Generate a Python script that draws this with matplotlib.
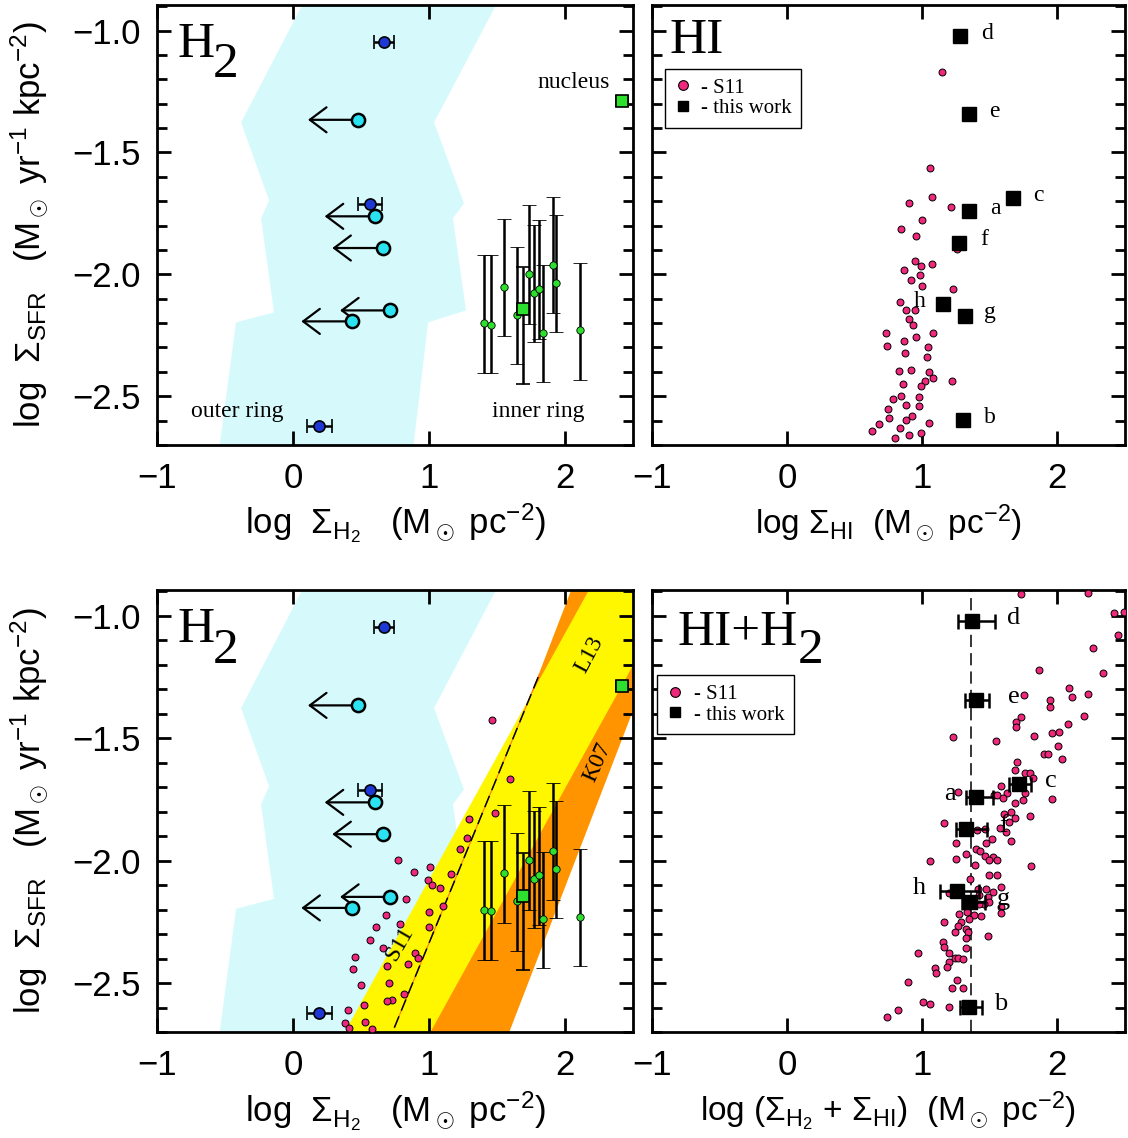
import numpy as np
import matplotlib
matplotlib.use('Agg')
import matplotlib.pyplot as plt
from matplotlib.lines import Line2D
from matplotlib.ticker import MultipleLocator

plt.rcParams['font.family'] = ['Liberation Sans', 'DejaVu Sans']
plt.rcParams['mathtext.fontset'] = 'custom'
plt.rcParams['mathtext.rm'] = 'Liberation Sans'
plt.rcParams['mathtext.it'] = 'Liberation Sans:italic'
plt.rcParams['mathtext.bf'] = 'Liberation Sans:bold'
serif = ['Liberation Serif', 'DejaVu Serif']

# ---- H2 panel: this work ----
# outer ring detections (dark blue) with x errors
blue_x = [0.667, 0.566, 0.194]
blue_y = [-1.045, -1.71, -2.623]
blue_xerr = [0.073, 0.086, 0.094]
# outer ring upper limits (cyan)
cyan_x = [0.48, 0.603, 0.659, 0.716, 0.431]
cyan_y = [-1.366, -1.762, -1.892, -2.148, -2.193]
# inner ring points
inner_x = [1.407, 1.456, 1.549, 1.645, 1.738, 1.775, 1.806, 1.841, 1.909, 1.934, 2.11]
inner_y = [-2.20, -2.206, -2.052, -2.165, -1.997, -2.075, -2.059, -2.24, -1.96, -2.035, -2.23]
inner_up = [0.28, 0.287, 0.28, 0.277, 0.28, 0.276, 0.28, 0.277, 0.277, 0.28, 0.277]
inner_dn = [0.205, 0.198, 0.202, 0.204, 0.205, 0.202, 0.205, 0.2, 0.2, 0.2, 0.202]
# inner ring mean and nucleus
ring_x, ring_y, ring_up, ring_dn = 1.693, -2.143, 0.173, 0.305
nuc_x, nuc_y, nuc_xerr = 2.417, -1.287, 0.045

# region of other galaxies (cyan band), left and right edges
band_lx = [0.081, -0.382, -0.176, -0.235, -0.140, -0.419, -0.544]
band_ly = [-0.88, -1.377, -1.697, -1.770, -2.156, -2.197, -2.72]
band_rx = [1.507, 1.037, 1.257, 1.176, 1.272, 0.993, 0.882]
band_ry = [-0.88, -1.377, -1.709, -1.770, -2.148, -2.197, -2.72]

# L13 and K07 relations (edges at bottom and top of the plot)
rel_y = [-2.70, -0.885]
l13_left = [0.375, 2.18]
l13_right = [1.005, 2.81]
k07_left = [0.789, 2.047]
k07_right = [1.585, 2.843]
s11_line_x = [0.745, 1.811]
s11_line_y = [-2.682, -1.239]

# S11 points in H2 space
s11_h2_x = [1.593, 1.483, 1.463, 1.294, 1.277, 1.226, 0.770, 1.005, 0.892, 1.162,
            0.995, 1.022, 1.079, 0.829, 1.101, 1.002, 0.686, 0.787, 0.610, 0.998,
            0.564, 0.660, 0.897, 0.919, 0.456, 0.843, 0.689, 0.439, 0.498, 0.708,
            0.814, 0.730, 0.689, 0.522, 0.402, 0.532, 0.385, 0.581, 0.414]
s11_h2_y = [-1.668, -1.807, -1.427, -1.831, -1.907, -1.952, -1.996, -2.026, -2.046, -2.053,
            -2.079, -2.098, -2.111, -2.155, -2.186, -2.208, -2.221, -2.258, -2.272, -2.273,
            -2.325, -2.355, -2.376, -2.398, -2.395, -2.421, -2.430, -2.443, -2.508, -2.499,
            -2.545, -2.568, -2.575, -2.591, -2.608, -2.657, -2.665, -2.689, -2.682]

# ---- HI panel ----
reg_lab = ['d', 'e', 'c', 'a', 'f', 'h', 'g', 'b']
reg_sfr = [-1.022, -1.342, -1.686, -1.740, -1.870, -2.123, -2.169, -2.597]
reg_hi = [1.282, 1.348, 1.674, 1.343, 1.27, 1.152, 1.318, 1.304]
reg_tot = [1.368, 1.397, 1.716, 1.40, 1.326, 1.255, 1.355, 1.343]
reg_tot_lo = [0.105, 0.078, 0.074, 0.074, 0.078, 0.12, 0.061, 0.064]
reg_tot_hi = [0.172, 0.098, 0.086, 0.127, 0.155, 0.167, 0.11, 0.098]
tot_mean = 1.363

s11_hi_x = [1.147, 1.061, 1.069, 0.900, 1.213, 0.995, 0.843, 0.953, 1.257, 0.946,
            0.990, 1.074, 0.868, 0.985, 0.917, 0.995, 1.228, 0.836, 0.882, 0.946,
            0.902, 0.929, 0.730, 1.078, 0.865, 0.953, 0.738, 1.039, 0.870, 1.037,
            0.826, 0.917, 1.047, 1.078, 1.020, 1.223, 0.858, 0.993, 0.841, 0.784,
            0.975, 0.745, 0.882, 0.975, 0.752, 0.924, 0.877, 1.049, 0.681, 0.630,
            0.833, 0.904, 0.988, 0.799]
s11_hi_y = [-1.169, -1.563, -1.684, -1.706, -1.724, -1.776, -1.816, -1.842, -1.895, -1.944,
            -1.964, -1.958, -1.981, -2.004, -2.022, -2.049, -2.061, -2.113, -2.145, -2.148,
            -2.183, -2.208, -2.240, -2.240, -2.275, -2.257, -2.292, -2.299, -2.322, -2.339,
            -2.395, -2.392, -2.399, -2.426, -2.436, -2.437, -2.448, -2.458, -2.499, -2.512,
            -2.505, -2.551, -2.536, -2.540, -2.590, -2.582, -2.597, -2.609, -2.612, -2.643,
            -2.632, -2.660, -2.652, -2.672]

# ---- HI+H2 panel ----
s11_tot_x = [1.728, 2.230, 2.422, 2.49, 2.451, 2.260, 1.863, 2.336, 2.083, 1.752,
             1.944, 2.108, 2.228, 1.949, 1.728, 1.691, 1.691, 2.199, 2.078, 1.228,
             1.547, 1.824, 1.963, 2.010, 2.005, 1.904, 1.931, 2.034, 1.699, 1.686,
             1.757, 1.801, 1.821, 1.581, 1.630, 1.757, 1.532, 1.556, 1.600, 1.745,
             1.961, 1.265, 1.684, 1.605, 1.654, 1.684, 1.797, 1.642, 1.574, 1.618,
             1.159, 1.402, 1.463, 1.517, 1.471, 1.250, 1.654, 1.397, 1.429, 1.324,
             1.250, 1.463, 1.520, 1.495, 1.556, 1.054, 1.390, 1.806, 1.495, 1.556,
             1.355, 1.581, 1.409, 1.471, 1.520, 1.196, 1.422, 1.483, 1.495, 1.458,
             1.422, 1.581, 1.581, 1.275, 1.331, 1.434, 1.385, 1.287, 1.348, 1.164,
             1.262, 1.324, 1.245, 1.341, 1.483, 1.324, 1.157, 1.164, 1.324, 0.968,
             1.201, 1.245, 1.267, 1.304, 1.196, 1.091, 1.103, 1.184, 1.257, 0.895,
             1.218, 1.299, 1.005, 1.061, 1.196, 0.821, 0.740]
s11_tot_y = [-0.910, -0.906, -0.990, -0.985, -1.077, -1.131, -1.223, -1.234, -1.295, -1.322,
             -1.346, -1.333, -1.321, -1.372, -1.415, -1.434, -1.455, -1.408, -1.443, -1.495,
             -1.512, -1.493, -1.480, -1.473, -1.530, -1.563, -1.566, -1.586, -1.597, -1.630,
             -1.641, -1.643, -1.664, -1.694, -1.723, -1.723, -1.730, -1.732, -1.746, -1.754,
             -1.750, -1.719, -1.766, -1.811, -1.803, -1.825, -1.817, -1.842, -1.866, -1.883,
             -1.846, -1.876, -1.872, -1.913, -1.926, -1.926, -1.919, -1.951, -1.961, -1.971,
             -1.995, -1.982, -1.985, -1.999, -1.999, -2.003, -2.019, -2.023, -2.057, -2.060,
             -2.074, -2.108, -2.115, -2.115, -2.128, -2.131, -2.142, -2.149, -2.169, -2.176,
             -2.176, -2.190, -2.213, -2.217, -2.210, -2.227, -2.224, -2.249, -2.238, -2.249,
             -2.265, -2.279, -2.292, -2.290, -2.306, -2.316, -2.333, -2.354, -2.357, -2.377,
             -2.378, -2.399, -2.397, -2.401, -2.415, -2.439, -2.459, -2.436, -2.488, -2.497,
             -2.522, -2.521, -2.577, -2.585, -2.596, -2.609, -2.637]

pink = '#f0287c'
cyanband = '#d6fafc'
green = '#2ee02e'
# label offsets (points) next to the squares
hi_dx = {'d': 19, 'e': 18, 'c': 18, 'a': 19, 'f': 18, 'h': -17, 'g': 18, 'b': 19}
tot_dx = {'d': 30, 'e': 27, 'c': 23, 'a': -19, 'f': 27, 'h': -27, 'g': 24, 'b': 23}

fig = plt.figure(figsize=(11.28, 11.38), dpi=100)
ax_tl = fig.add_axes([0.1392, 0.6090, 0.4220, 0.3866])
ax_tr = fig.add_axes([0.5780, 0.6090, 0.4193, 0.3866])
ax_bl = fig.add_axes([0.1392, 0.0931, 0.4220, 0.3884])
ax_br = fig.add_axes([0.5780, 0.0931, 0.4193, 0.3884])


def setup(ax, ylab):
    ax.set_xlim(-1, 2.5)
    ax.set_ylim(-2.70, -0.895)
    ax.set_xticks([-1, 0, 1, 2])
    ax.set_yticks([-1.0, -1.5, -2.0, -2.5])
    ax.yaxis.set_minor_locator(MultipleLocator(0.1))
    ax.tick_params(which='both', direction='in', top=True, right=True, width=2)
    ax.tick_params(which='major', length=10, labelsize=25)
    ax.tick_params(axis='x', pad=12)
    ax.tick_params(axis='y', pad=12)
    ax.tick_params(which='minor', length=7)
    for s in ax.spines.values():
        s.set_linewidth(2)
    if ylab:
        ax.set_ylabel(r'log  $\Sigma_{\rm SFR}$   (M$_\odot$ yr$^{-1}$ kpc$^{-2}$)', fontsize=25)
        ax.yaxis.set_label_coords(-0.225, 0.5)
    else:
        ax.set_yticklabels([])


def panel_name(ax, main, sub, x0, y0, x1, y1):
    ax.text(x0, y0, main, transform=ax.transAxes, fontsize=37, family=serif, va='baseline', zorder=10)
    if sub:
        ax.text(x1, y1, sub, transform=ax.transAxes, fontsize=37, family=serif, va='baseline', zorder=10)


def h2_points(ax):
    ax.fill(band_lx + band_rx[::-1], band_ly + band_ry[::-1], color=cyanband, lw=0, zorder=0)
    for x, y in zip(cyan_x, cyan_y):
        ax.annotate('', xy=(x - 0.37, y), xytext=(x, y),
                    arrowprops=dict(arrowstyle='->,head_length=0.6,head_width=0.45', lw=1.6,
                                    color='black', shrinkA=0, shrinkB=0, mutation_scale=20), zorder=5)
    ax.errorbar(blue_x, blue_y, xerr=blue_xerr, fmt='o', ms=8, mfc='#1d38d4', mec='black', mew=1.2,
                ecolor='black', elinewidth=1.8, capsize=4.7, capthick=1.8, zorder=6)
    ax.plot(cyan_x, cyan_y, 'o', ms=9.5, mfc='#2ae2f0', mec='black', mew=1.8, zorder=6)
    ax.errorbar(inner_x, inner_y, yerr=[inner_dn, inner_up], fmt='o', ms=5.3, mfc=green, mec='black',
                mew=0.6, ecolor='black', elinewidth=1.8, capsize=5.3, capthick=1.8, zorder=6)
    ax.errorbar([ring_x], [ring_y], yerr=[[ring_dn], [ring_up]], fmt='s', ms=9, mfc=green, mec='black',
                mew=1.2, ecolor='black', elinewidth=1.8, capsize=5.3, capthick=1.8, zorder=7)
    ax.errorbar([nuc_x], [nuc_y], xerr=[nuc_xerr], fmt='s', ms=9, mfc=green, mec='black',
                mew=1.2, ecolor='black', elinewidth=1.8, capsize=4.5, capthick=1.8, zorder=7)


def add_legend(ax, anchor):
    handles = [
        Line2D([], [], ls='none', marker='o', ms=7, mfc=pink, mec='black', mew=0.8),
        Line2D([], [], ls='none', marker='s', ms=7.5, mfc='black', mec='black'),
    ]
    leg = ax.legend(handles, ['- S11', '- this work'], loc='upper left',
                    bbox_to_anchor=anchor, borderaxespad=0, frameon=True, fancybox=False,
                    edgecolor='black', framealpha=1, prop={'family': serif, 'size': 15},
                    handlelength=0.8, handletextpad=0.5, labelspacing=0.05, borderpad=0.45)
    leg.get_frame().set_linewidth(1)


# top left: H2
setup(ax_tl, True)
h2_points(ax_tl)
ax_tl.text(2.066, -1.234, 'nucleus', family=serif, fontsize=17, ha='center', va='baseline')
ax_tl.text(-0.41, -2.586, 'outer ring', family=serif, fontsize=17, ha='center', va='baseline')
ax_tl.text(1.805, -2.586, 'inner ring', family=serif, fontsize=17, ha='center', va='baseline')
panel_name(ax_tl, 'H', '2', 0.044, 0.882, 0.118, 0.836)
ax_tl.set_xlabel(r'log  $\Sigma_{\rm H_2}$   (M$_\odot$ pc$^{-2}$)', fontsize=25)
ax_tl.xaxis.set_label_coords(0.5, -0.13)

# bottom left: H2 with relations
setup(ax_bl, True)
h2_points(ax_bl)
ax_bl.fill_betweenx(rel_y, k07_left, k07_right, color='#ff9400', lw=0, zorder=1)
ax_bl.fill_betweenx(rel_y, l13_left, l13_right, color='#fff700', lw=0, zorder=1.5)
ax_bl.plot(s11_line_x, s11_line_y, color='#ff7a00', lw=0.8, zorder=2)
ax_bl.plot(s11_line_x, s11_line_y, color='black', lw=1.1, ls=(0, (8, 4)), zorder=2.1)
ax_bl.plot(s11_h2_x, s11_h2_y, 'o', ms=5, mfc=pink, mec='black', mew=0.7, zorder=3)
ax_bl.text(0.782, -2.34, 'S11', family=serif, fontsize=17, rotation=60, ha='center', va='center', zorder=4)
ax_bl.text(2.179, -1.157, 'L13', family=serif, fontsize=17, rotation=62, ha='center', va='center', zorder=4)
ax_bl.text(2.24, -1.60, 'K07', family=serif, fontsize=17, rotation=66, ha='center', va='center', zorder=4)
panel_name(ax_bl, 'H', '2', 0.044, 0.882, 0.118, 0.836)
ax_bl.set_xlabel(r'log  $\Sigma_{\rm H_2}$   (M$_\odot$ pc$^{-2}$)', fontsize=25)
ax_bl.xaxis.set_label_coords(0.5, -0.13)

# top right: HI
setup(ax_tr, False)
ax_tr.plot(s11_hi_x, s11_hi_y, 'o', ms=5, mfc=pink, mec='black', mew=0.7, zorder=3)
ax_tr.plot(reg_hi, reg_sfr, 's', ms=9.5, color='black', zorder=5)
for lab, x, y in zip(reg_lab, reg_hi, reg_sfr):
    ax_tr.annotate(lab, (x, y), xytext=(hi_dx[lab], 2), textcoords='offset points', family=serif,
                   fontsize=17, ha='center', va='center')
panel_name(ax_tr, 'HI', None, 0.038, 0.891, 0, 0)
add_legend(ax_tr, (0.0275, 0.855))
ax_tr.set_xlabel(r'log $\Sigma_{\rm HI}$  (M$_\odot$ pc$^{-2}$)', fontsize=24)
ax_tr.xaxis.set_label_coords(0.5, -0.13)

# bottom right: HI + H2
setup(ax_br, False)
ax_br.axvline(tot_mean, color='black', lw=1.1, ls=(0, (8, 4)), zorder=2)
ax_br.plot(s11_tot_x, s11_tot_y, 'o', ms=5, mfc=pink, mec='black', mew=0.7, zorder=3)
ax_br.errorbar(reg_tot, reg_sfr, xerr=[reg_tot_lo, reg_tot_hi], fmt='s', ms=9.5, color='black',
               elinewidth=1.8, capsize=5.4, capthick=1.8, zorder=5)
for lab, x, y in zip(reg_lab, reg_tot, reg_sfr):
    ax_br.annotate(lab, (x, y), xytext=(tot_dx[lab], 2), textcoords='offset points', family=serif,
                   fontsize=19, ha='center', va='center')
panel_name(ax_br, 'HI+H', '2', 0.053, 0.876, 0.308, 0.835)
add_legend(ax_br, (0.011, 0.808))
ax_br.set_xlabel(r'log $(\Sigma_{\rm H_2}$ + $\Sigma_{\rm HI})$  (M$_\odot$ pc$^{-2}$)', fontsize=24)
ax_br.xaxis.set_label_coords(0.5, -0.13)

fig.savefig('out.png', dpi=100)
